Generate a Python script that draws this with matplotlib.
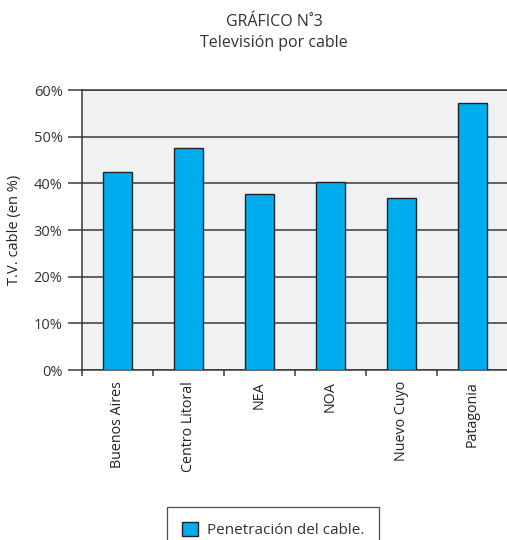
import numpy as np
import matplotlib
matplotlib.use('Agg')
import matplotlib.pyplot as plt
from matplotlib.patches import Patch

# Penetración de la TV por cable por región
regiones = ['Buenos Aires', 'Centro Litoral', 'NEA', 'NOA', 'Nuevo Cuyo', 'Patagonia']
penetracion = [42.5, 47.6, 37.7, 40.3, 36.8, 57.2]
marcas_y = [0, 10, 20, 30, 40, 50, 60]

plt.rcParams['font.family'] = ['Open Sans', 'DejaVu Sans']

azul = '#00AEEF'
gris_texto = '#333333'
gris_linea = '#3a3a3a'

fig = plt.figure(figsize=(5.07, 5.40), dpi=100)
ax = fig.add_axes([82 / 507, 170 / 540, 426 / 507, 280 / 540])
ax.set_facecolor('#F0F1F3')

x = np.arange(len(regiones))
ax.set_axisbelow(True)
ax.yaxis.grid(True, color=gris_linea, linewidth=1.1)
ax.bar(x, penetracion, width=0.42, color=azul, edgecolor='#222222', linewidth=1.0, zorder=3)

ax.set_xlim(-0.5, len(regiones) - 0.5)
ax.set_ylim(0, 60)
ax.set_yticks(marcas_y)
ax.set_yticklabels([f'{v}%' for v in marcas_y], fontsize=10.5, color=gris_texto)
ax.tick_params(axis='y', length=10, width=1.1, color=gris_linea, pad=4)

# etiquetas centradas en las barras, marcas en los límites de cada categoría
ax.set_xticks(x)
ax.set_xticklabels(regiones, rotation=90, fontsize=10.3, color='#222222', va='top')
ax.tick_params(axis='x', which='major', length=0, pad=8)
ax.set_xticks(np.arange(-0.5, len(regiones), 1), minor=True)
ax.tick_params(axis='x', which='minor', length=4, width=1.1, color=gris_linea)

for lado in ['top', 'left', 'bottom']:
    ax.spines[lado].set_color(gris_linea)
    ax.spines[lado].set_linewidth(1.1)
ax.spines['right'].set_visible(False)

ax.set_ylabel('T.V. cable (en %)', fontsize=10.5, color='#222222', labelpad=8)

fig.text(274 / 507, 1 - 22 / 540, 'GRÁFICO N˚3', ha='center', va='center',
         fontsize=11.5, color=gris_texto)
fig.text(274 / 507, 1 - 43 / 540, 'Televisión por cable', ha='center', va='center',
         fontsize=11.5, color=gris_texto)

handle = Patch(facecolor=azul, edgecolor='#222222', linewidth=1.0)
leg = fig.legend([handle], ['Penetración del cable.'], loc='upper left',
                 bbox_to_anchor=(167 / 507, 1 - 507 / 540), fontsize=11,
                 handlelength=1.0, handleheight=1.0, handletextpad=0.6,
                 borderpad=1.0, borderaxespad=0, fancybox=False)
leg.get_frame().set_edgecolor('#222222')
leg.get_frame().set_linewidth(0.9)
for t in leg.get_texts():
    t.set_color(gris_texto)

fig.savefig('out.png', dpi=100)
